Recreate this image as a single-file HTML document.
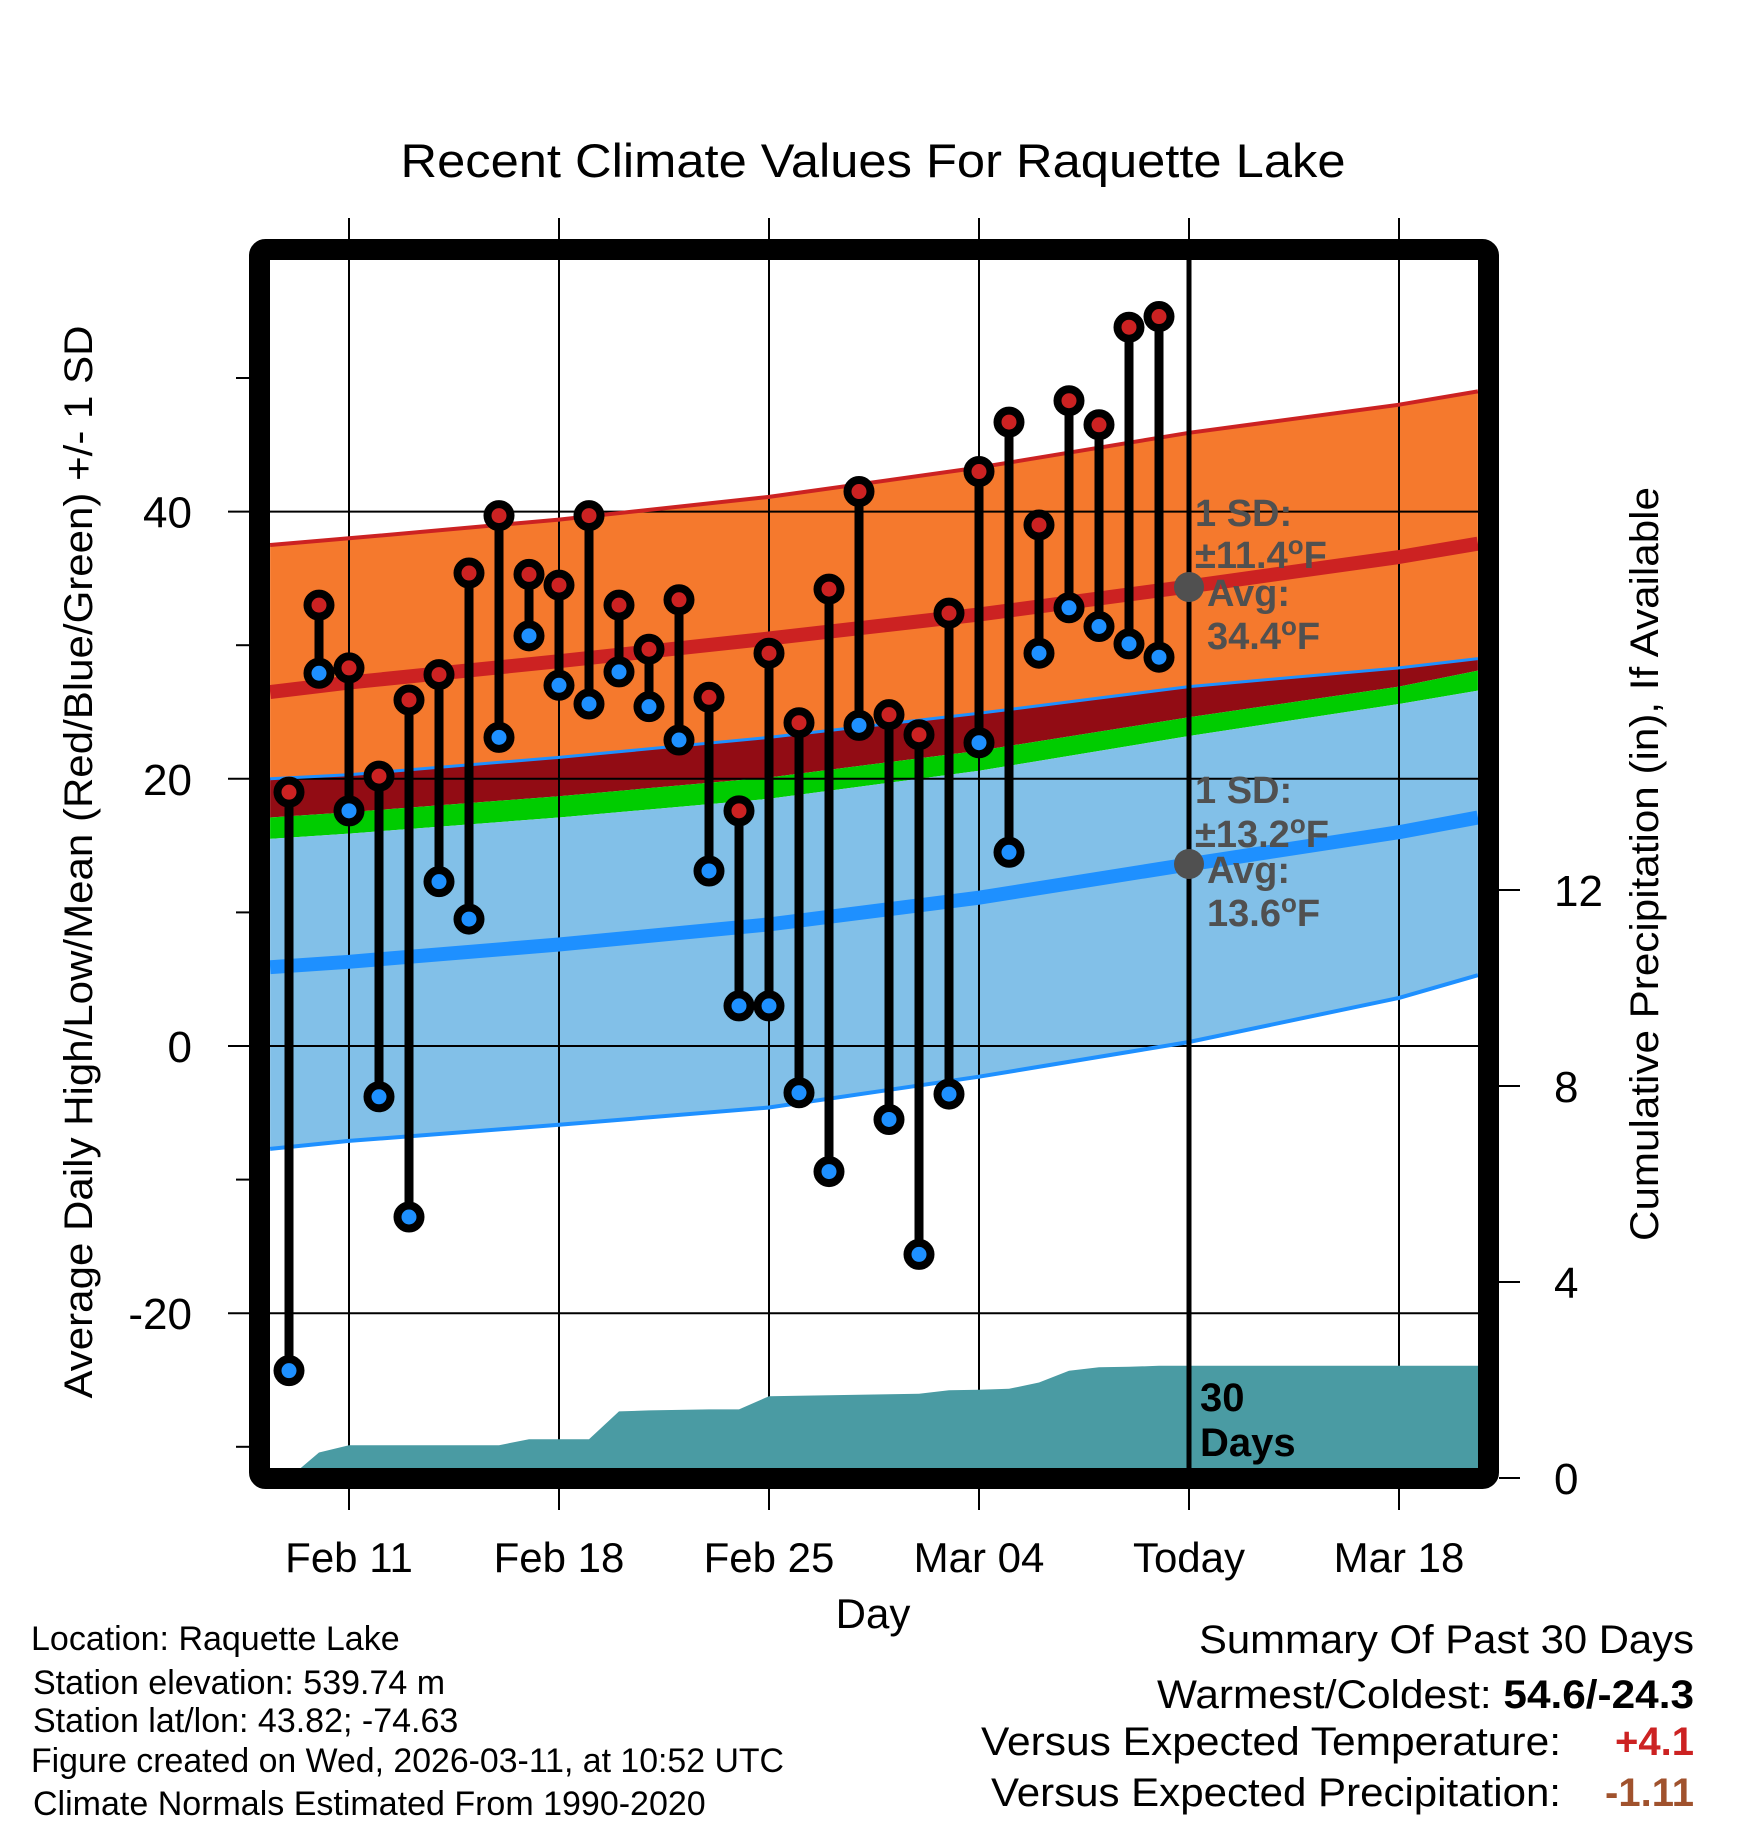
<!DOCTYPE html>
<html><head><meta charset="utf-8">
<style>
html,body{margin:0;padding:0;background:#fff;}
svg{display:block;font-family:"Liberation Sans",Arial,sans-serif;}
</style></head>
<body>
<svg id="chart" width="1748" height="1828" viewBox="0 0 1748 1828" xmlns="http://www.w3.org/2000/svg">
<defs><clipPath id="plotclip"><rect x="270" y="260" width="1208" height="1208"/></clipPath></defs>
<g id="fills" clip-path="url(#plotclip)"></g>
<g id="grid"></g>
<g id="nlines" clip-path="url(#plotclip)"></g>
<g id="precip" clip-path="url(#plotclip)"></g>
<g id="marks"></g>
<rect x="259.5" y="249.5" width="1229" height="1229" rx="6" fill="none" stroke="#000" stroke-width="21"/>
<g id="axes"></g>
<text x="873" y="177" font-size="47" text-anchor="middle" textLength="945" lengthAdjust="spacingAndGlyphs">Recent Climate Values For Raquette Lake</text>
<text transform="translate(92,862) rotate(-90)" font-size="40" text-anchor="middle" textLength="1073" lengthAdjust="spacingAndGlyphs">Average Daily High/Low/Mean (Red/Blue/Green) +/- 1 SD</text>
<text transform="translate(1658,864) rotate(-90)" font-size="40" text-anchor="middle" textLength="754" lengthAdjust="spacingAndGlyphs">Cumulative Precipitation (in), If Available</text>
<text x="873" y="1628" font-size="42" text-anchor="middle">Day</text>
<g font-size="38" font-weight="bold" fill="#505050">
<circle cx="1189" cy="587" r="15" fill="#505050"/>
<text x="1195" y="526">1 SD:</text>
<text x="1195" y="568">±11.4<tspan font-size="26" dy="-14">o</tspan><tspan dy="14">F</tspan></text>
<text x="1207" y="606">Avg:</text>
<text x="1207" y="649">34.4<tspan font-size="26" dy="-14">o</tspan><tspan dy="14">F</tspan></text>
</g>
<g font-size="38" font-weight="bold" fill="#505050">
<circle cx="1189" cy="864" r="15" fill="#505050"/>
<text x="1195" y="803">1 SD:</text>
<text x="1195" y="847">±13.2<tspan font-size="26" dy="-14">o</tspan><tspan dy="14">F</tspan></text>
<text x="1207" y="883">Avg:</text>
<text x="1207" y="926">13.6<tspan font-size="26" dy="-14">o</tspan><tspan dy="14">F</tspan></text>
</g>
<g font-size="40" font-weight="bold" fill="#000">
<text x="1200" y="1411">30</text>
<text x="1200" y="1456">Days</text>
</g>
<g font-size="34" fill="#000">
<text x="31" y="1650">Location: Raquette Lake</text>
<text x="33" y="1694">Station elevation: 539.74 m</text>
<text x="33" y="1732">Station lat/lon: 43.82; -74.63</text>
<text x="31" y="1772" textLength="753" lengthAdjust="spacingAndGlyphs">Figure created on Wed, 2026-03-11, at 10:52 UTC</text>
<text x="33" y="1815">Climate Normals Estimated From 1990-2020</text>
</g>
<g font-size="40" fill="#000">
<text x="1694" y="1653" text-anchor="end" textLength="495" lengthAdjust="spacingAndGlyphs">Summary Of Past 30 Days</text>
<text x="1694" y="1708" text-anchor="end" textLength="537" lengthAdjust="spacingAndGlyphs">Warmest/Coldest: <tspan font-weight="bold">54.6/-24.3</tspan></text>
<text x="1561" y="1755" text-anchor="end" textLength="580" lengthAdjust="spacingAndGlyphs">Versus Expected Temperature:</text>
<text x="1694" y="1755" text-anchor="end" font-weight="bold" fill="#CC2222">+4.1</text>
<text x="1561" y="1806" text-anchor="end" textLength="570" lengthAdjust="spacingAndGlyphs">Versus Expected Precipitation:</text>
<text x="1694" y="1806" text-anchor="end" font-weight="bold" fill="#A0522D">-1.11</text>
</g>
</svg>
<script>
// Daily observations, day 0 = Feb 9
const highs = [19.0,33.0,28.3,20.2,25.9,27.8,35.4,39.7,35.3,34.5,39.7,33.0,29.7,33.4,26.1,17.6,29.4,24.2,34.2,41.5,24.8,23.3,32.4,43.0,46.7,39.0,48.3,46.5,53.8,54.6];
const lows = [-24.3,27.9,17.6,-3.8,-12.8,12.3,9.5,23.1,30.7,27.0,25.6,28.0,25.4,22.9,13.1,3.0,3.0,-3.5,-9.4,24.0,-5.5,-15.6,-3.6,22.7,14.5,29.4,32.8,31.4,30.1,29.1];
const precip = [0,0.52,0.67,0.67,0.67,0.67,0.67,0.67,0.79,0.79,0.79,1.36,1.38,1.39,1.40,1.40,1.67,1.68,1.69,1.70,1.71,1.72,1.79,1.80,1.82,1.95,2.19,2.26,2.27,2.29];
// Normals sampled at day offsets
const normDays = [-0.63,2,9,16,23,30,37,39.63];
const normHighUp = [37.5,38.0,39.4,41.1,43.3,45.9,48.0,49.0];
const normHigh = [26.5,27.2,28.8,30.5,32.3,34.4,36.6,37.6];
const normHighDn = [20.0,20.3,21.6,23.1,24.9,26.9,28.3,29.0];
const greenTop = [17.1,17.5,18.7,20.1,22.1,24.6,26.9,28.1];
const greenBot = [15.5,15.9,17.1,18.5,20.6,23.2,25.6,26.6];
const normLow = [5.9,6.3,7.6,9.1,11.1,13.6,16.0,17.1];
const normLowDn = [-7.7,-7.1,-5.9,-4.6,-2.3,0.3,3.6,5.3];
// Axis ticks
const tempTicks = [-20,0,20,40];
const tempMinor = [-30,-10,10,30,50];
const precipTicks = [0,4,8,12];
const xTickDays = [2,9,16,23,30,37];
const xTickLabels = ["Feb 11","Feb 18","Feb 25","Mar 04","Today","Mar 18"];

const NS="http://www.w3.org/2000/svg";
const X = d => 289 + 30*d;
const Y = t => 1046 - 13.36*t;
const YP = p => 1478 - 49*p;
function mk(tag, attrs, parent){const e=document.createElementNS(NS,tag);for(const k in attrs)e.setAttribute(k,attrs[k]);parent.appendChild(e);return e;}
const pts = arr => normDays.map((d,i)=>X(d).toFixed(1)+","+Y(arr[i]).toFixed(1));
function band(top,bot,color,name){
  const p = pts(top).concat(pts(bot).reverse()).join(" ");
  const e = mk("polygon",{points:p,fill:color},document.getElementById("fills"));
  
  
}
band(normHighUp,normHighDn,"#F5792D","high-sd-band");
band(normHighDn,greenTop,"#920C14","overlap-band");
band(greenTop,greenBot,"#00CC00","mean-band");
band(greenBot,normLowDn,"#82C0E8","low-sd-band");

const g = document.getElementById("grid");
tempTicks.forEach(t=>{
  const l = mk("line",{x1:228,x2:1478,y1:Y(t),y2:Y(t),stroke:"#000","stroke-width":2},g);
  
  
});
xTickDays.forEach(d=>{
  const l = mk("line",{x1:X(d),x2:X(d),y1:218,y2:1510,stroke:"#000","stroke-width":2},g);
  
  
});

const nl = document.getElementById("nlines");
function line(arr,color,w,name){
  const e = mk("polyline",{points:pts(arr).join(" "),fill:"none",stroke:color,"stroke-width":w},nl);
  
  
}
line(normHighUp,"#CC2222",4,"high-plus-sd-line");
line(normHighDn,"#1E90FF",3,"high-minus-sd-line");
line(normLowDn,"#1E90FF",4,"low-minus-sd-line");
line(normHigh,"#CC2222",14,"normal-high-line");
line(normLow,"#1E90FF",14,"normal-low-line");

const pg = document.getElementById("precip");
let pp = precip.map((v,i)=>X(i).toFixed(1)+","+YP(v).toFixed(1));
pp.push("1490,"+YP(precip[precip.length-1]).toFixed(1));
pp.push("1490,1490"); pp.push(X(0)+",1490");
const pa = mk("polygon",{points:pp.join(" "),fill:"#4A9BA3"},pg);



const tl = mk("line",{x1:X(30),x2:X(30),y1:260,y2:1470,stroke:"#000","stroke-width":5},document.getElementById("marks"));



const mg = document.getElementById("marks");
highs.forEach((h,i)=>{
  const s = mk("line",{x1:X(i),x2:X(i),y1:Y(h),y2:Y(lows[i]),stroke:"#000","stroke-width":9},mg);
  
  
});
highs.forEach((h,i)=>{
  const c1 = mk("circle",{cx:X(i),cy:Y(h),r:11.5,fill:"#CC2222",stroke:"#000","stroke-width":8},mg);
  
  
  const c2 = mk("circle",{cx:X(i),cy:Y(lows[i]),r:11.5,fill:"#1E90FF",stroke:"#000","stroke-width":8},mg);
  
  
});

const ax = document.getElementById("axes");
tempTicks.forEach(t=>{
  const e = mk("text",{x:192,y:Y(t)+16,"font-size":44,"text-anchor":"end"},ax);
  e.textContent = t;
  
  
});
tempMinor.forEach(t=>{
  const e = mk("line",{x1:236,x2:250,y1:Y(t),y2:Y(t),stroke:"#000","stroke-width":2},ax);
  
  
});
precipTicks.forEach(p=>{
  const l = mk("line",{x1:1499,x2:1520,y1:YP(p),y2:YP(p),stroke:"#000","stroke-width":2},ax);
  
  
  const e = mk("text",{x:1554,y:YP(p)+16,"font-size":44},ax);
  e.textContent = p;
  
  
});
xTickDays.forEach((d,i)=>{
  const e = mk("text",{x:X(d),y:1572,"font-size":42,"text-anchor":"middle"},ax);
  e.textContent = xTickLabels[i];
  
  
});
</script>
</body></html>
